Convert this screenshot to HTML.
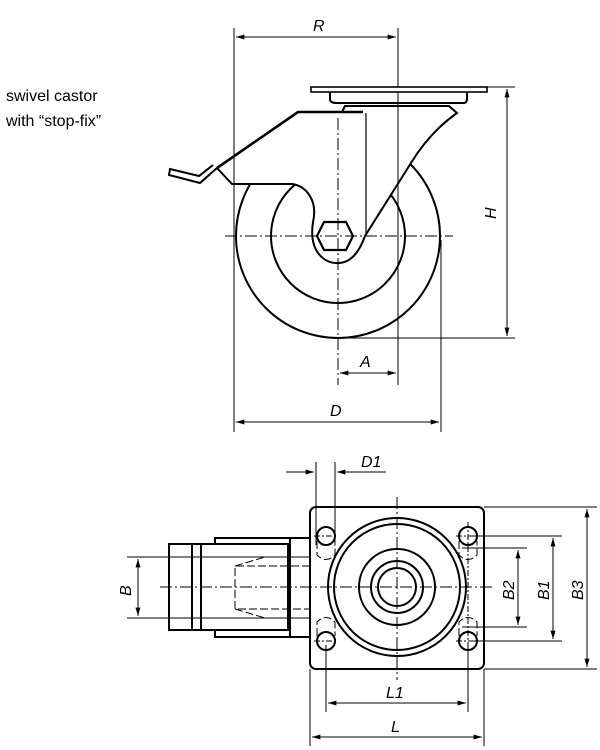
<!DOCTYPE html>
<html><head><meta charset="utf-8"><style>
html,body{margin:0;padding:0;background:#fff;}
svg{display:block;}
text{font-family:"Liberation Sans",sans-serif;fill:#000;}
.l{font-style:italic;font-size:16px;}
</style></head><body>
<svg width="600" height="750" viewBox="0 0 600 750" xmlns="http://www.w3.org/2000/svg">
<defs>
<marker id="a" viewBox="0 0 10 6" refX="10" refY="3" markerWidth="12" markerHeight="5" orient="auto-start-reverse" markerUnits="userSpaceOnUse"><path d="M0,0L10,3L0,6z" fill="#000"/></marker>
</defs>
<text x="6" y="101" style="font-size:16px">swivel castor</text>
<text x="6" y="126" style="font-size:16px">with “stop-fix”</text>

<g fill="none" stroke="#000" stroke-width="2">
<circle cx="338" cy="236" r="102"/>
<circle cx="338" cy="236" r="67"/>
</g>
<!-- fork (white fill covers wheel) -->
<path d="M217,168 L232,184 L292,184 C306,186 318,200 313,222 C308,255 328,264 338,263 C352,263 360,250 365,236 L411,163 C425,140 440,125 457,113 L449,106 L298,106 L298,112 Z" fill="#fff" stroke="none"/>

<g fill="none" stroke="#000" stroke-width="1">
<line x1="234" y1="28" x2="234" y2="432"/>
<line x1="398" y1="28" x2="398" y2="385"/>
<line x1="441" y1="240" x2="441" y2="432"/>
<line x1="236" y1="37" x2="396" y2="37" marker-start="url(#a)" marker-end="url(#a)"/>
<line x1="487" y1="87" x2="515" y2="87"/>
<line x1="338" y1="338" x2="515" y2="338"/>
<line x1="507" y1="89" x2="507" y2="336" marker-start="url(#a)" marker-end="url(#a)"/>
<line x1="340" y1="373" x2="396" y2="373" marker-start="url(#a)" marker-end="url(#a)"/>
<line x1="236" y1="422" x2="439" y2="422" marker-start="url(#a)" marker-end="url(#a)"/>
<line x1="338" y1="118" x2="338" y2="385" stroke-dasharray="12,3,2,3"/>
<line x1="225" y1="236" x2="453" y2="236" stroke-dasharray="12,3,2,3"/>
</g>
<text class="l" x="313" y="31">R</text>
<text class="l" x="483" y="218" transform="rotate(-90 490 212)">H</text>
<text class="l" x="360" y="367">A</text>
<text class="l" x="330" y="416">D</text>

<g fill="none" stroke="#000" stroke-width="2">
<rect x="311" y="87" width="176" height="5" stroke-width="1.6" fill="#fff"/>
<path d="M330,92 L330,100 Q331,103 336,103 L464,103 Q467,103 467,98 L467,92"/>
<path d="M324,222 L346,222 L353,236 L346,250 L324,250 L317,236 Z" stroke-width="2.2"/>
<path d="M217,168 L232,184 L292,184 C306,186 318,200 313,222 C308,255 328,264 338,263 C352,263 360,250 365,236 L411,163 C425,140 440,125 457,113 L449,106 L345,106 L342,112"/>
<line x1="366" y1="113" x2="366" y2="234" stroke-width="1.2"/>
<path d="M363,112 L298,112 L217,168" stroke-width="2.6"/>
<path d="M217,168 L200,183 L169,175 L170,169 L199,176 L213,165"/>
</g>

<!-- bottom view -->
<g fill="none" stroke="#000" stroke-width="1">
<line x1="316" y1="462" x2="316" y2="545"/>
<line x1="335" y1="462" x2="335" y2="545"/>
<line x1="286" y1="472" x2="314" y2="472" marker-end="url(#a)"/>
<line x1="337" y1="472" x2="386" y2="472" marker-start="url(#a)"/>
<line x1="484" y1="507" x2="597" y2="507"/>
<line x1="484" y1="669" x2="597" y2="669"/>
<line x1="468" y1="536" x2="562" y2="536"/>
<line x1="468" y1="641" x2="562" y2="641"/>
<line x1="462" y1="548" x2="527" y2="548"/>
<line x1="462" y1="627" x2="527" y2="627"/>
<line x1="518" y1="550" x2="518" y2="625" marker-start="url(#a)" marker-end="url(#a)"/>
<line x1="553" y1="538" x2="553" y2="639" marker-start="url(#a)" marker-end="url(#a)"/>
<line x1="587" y1="509" x2="587" y2="667" marker-start="url(#a)" marker-end="url(#a)"/>
<line x1="326" y1="645" x2="326" y2="712"/>
<line x1="468" y1="645" x2="468" y2="712"/>
<line x1="310" y1="669" x2="310" y2="746"/>
<line x1="484" y1="669" x2="484" y2="746"/>
<line x1="328" y1="703" x2="466" y2="703" marker-start="url(#a)" marker-end="url(#a)"/>
<line x1="312" y1="737" x2="482" y2="737" marker-start="url(#a)" marker-end="url(#a)"/>
<line x1="127" y1="557" x2="310" y2="557"/>
<line x1="127" y1="618" x2="310" y2="618"/>
<line x1="138" y1="559" x2="138" y2="616" marker-start="url(#a)" marker-end="url(#a)"/>
<line x1="397" y1="497" x2="397" y2="680" stroke-dasharray="12,3,2,3"/>
<line x1="160" y1="587" x2="495" y2="587" stroke-dasharray="12,3,2,3"/>
<g stroke-dasharray="8,3">
<path d="M310,566 L235,566 L235,609 L310,609"/>
<path d="M235,566 L265,557 M235,609 L265,618"/>
<path d="M317,541 L317,555 Q326,564 335,555 L335,541"/>
<path d="M459,541 L459,555 Q468,564 477,555 L477,541"/>
<path d="M317,636 L317,622 Q326,613 335,622 L335,636"/>
<path d="M459,636 L459,622 Q468,613 477,622 L477,636"/>
</g>
<g stroke-dasharray="6,2,2,2">
<line x1="314" y1="536" x2="338" y2="536"/><line x1="456" y1="536" x2="480" y2="536"/>
<line x1="314" y1="641" x2="338" y2="641"/><line x1="456" y1="641" x2="480" y2="641"/>
<line x1="468" y1="522" x2="468" y2="655"/>
</g>
</g>
<g fill="none" stroke="#000" stroke-width="2">
<rect x="310" y="507" width="174" height="162" rx="6"/>
<circle cx="397" cy="587" r="69"/>
<circle cx="397" cy="587" r="63"/>
<circle cx="397" cy="587" r="38"/>
<circle cx="397" cy="587" r="26"/>
<circle cx="397" cy="587" r="19"/>
<circle cx="326" cy="536" r="9"/><circle cx="468" cy="536" r="9"/>
<circle cx="326" cy="641" r="9"/><circle cx="468" cy="641" r="9"/>
<rect x="169" y="544" width="119" height="86"/>
<line x1="192" y1="544" x2="192" y2="630"/>
<line x1="201" y1="544" x2="201" y2="630"/>
<path d="M215,544 L215,538 L290,538 L290,637 L215,637 L215,630"/>
<line x1="290" y1="538" x2="310" y2="538"/>
<line x1="290" y1="637" x2="310" y2="637"/>
</g>
<text class="l" x="361" y="467">D1</text>
<text class="l" x="386" y="698">L1</text>
<text class="l" x="391" y="732">L</text>
<text class="l" transform="translate(131 596) rotate(-90)">B</text>
<text class="l" transform="translate(514 600) rotate(-90)">B2</text>
<text class="l" transform="translate(549 600) rotate(-90)">B1</text>
<text class="l" transform="translate(583 600) rotate(-90)">B3</text>
</svg>
</body></html>
